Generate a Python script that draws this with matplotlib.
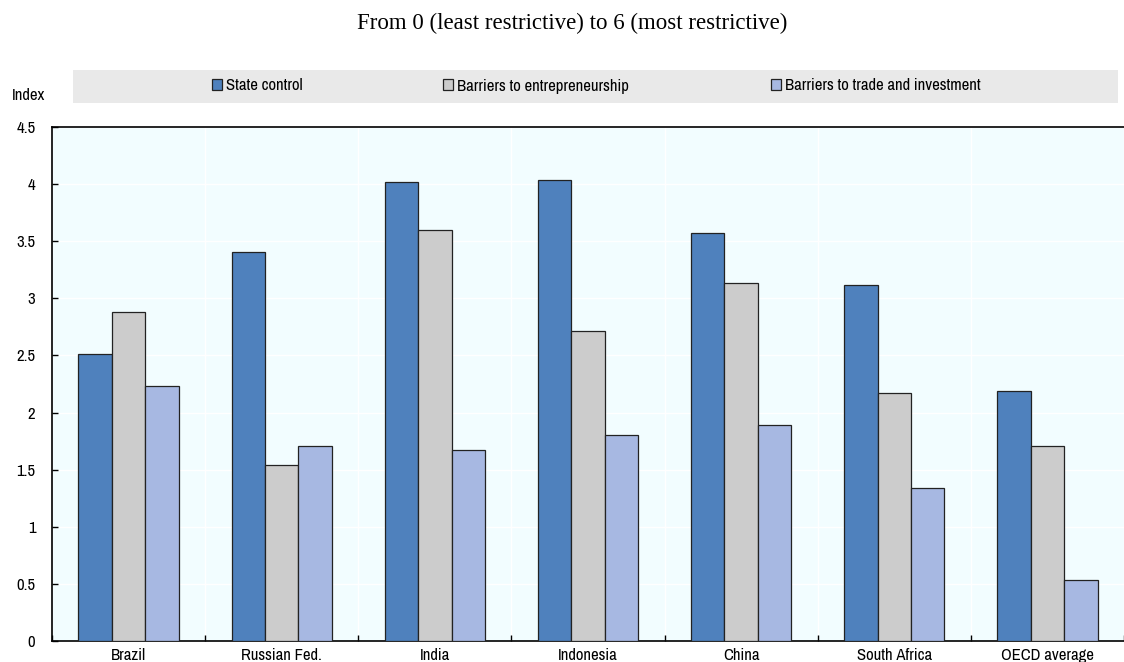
import numpy as np
import matplotlib
matplotlib.use('Agg')
import matplotlib.pyplot as plt
from matplotlib.patches import Rectangle, Patch

plt.rcParams['font.family'] = ['Archivo Narrow', 'PT Sans Narrow', 'Liberation Sans', 'DejaVu Sans']

countries = ['Brazil', 'Russian Fed.', 'India', 'Indonesia', 'China', 'South Africa', 'OECD average']
state_control = [2.51, 3.41, 4.02, 4.04, 3.57, 3.12, 2.19]
barriers_entre = [2.88, 1.54, 3.60, 2.71, 3.13, 2.17, 1.71]
barriers_trade = [2.23, 1.71, 1.67, 1.80, 1.89, 1.34, 0.53]
series_names = ['State control', 'Barriers to entrepreneurship', 'Barriers to trade and investment']
colors = ['#4f81bd', '#cccccc', '#a7b8e2']

fig = plt.figure(figsize=(11.24, 6.62), dpi=100)
ax = fig.add_axes([52 / 1124, 1 - 641 / 662, 1 - 52 / 1124, (641 - 127) / 662])
ax.set_facecolor('#f2fdff')

x = np.arange(len(countries))
w = 0.218
for i, vals in enumerate([state_control, barriers_entre, barriers_trade]):
    ax.bar(x + (i - 1) * w, vals, width=w, color=colors[i], edgecolor='#222222',
           linewidth=0.9, zorder=3)

ax.set_xlim(-0.5, len(countries) - 0.5)
ax.set_ylim(0, 4.5)
ax.set_yticks(np.arange(0, 4.51, 0.5))
ax.set_yticklabels(['0', '0.5', '1', '1.5', '2', '2.5', '3', '3.5', '4', '4.5'])
ax.set_xticks(x)
ax.set_xticklabels(countries)
ax.set_xticks(np.arange(-0.5, len(countries) - 0.4, 1), minor=True)
ax.tick_params(axis='x', which='major', length=0, labelsize=12, pad=5)
ax.tick_params(axis='x', which='minor', length=4, direction='in', width=1)
ax.tick_params(axis='y', length=4, direction='in', width=1, labelsize=12, pad=12)

# gridlines in white
ax.grid(axis='y', color='white', linewidth=1, zorder=1)
ax.grid(axis='x', which='minor', color='white', linewidth=1, zorder=1)
ax.set_axisbelow(True)

ax.spines['right'].set_visible(False)
for s in ['left', 'top', 'bottom']:
    ax.spines[s].set_linewidth(1.2)
    ax.spines[s].set_color('black')

# title and axis unit
fig.text(572 / 1124, 1 - 23 / 662, 'From 0 (least restrictive) to 6 (most restrictive)',
         family=['Liberation Serif', 'DejaVu Serif'], fontsize=16.5, ha='center', va='center')
fig.text(12 / 1124, 1 - 96 / 662, 'Index', fontsize=12, ha='left', va='center')

# legend box
fig.patches.append(Rectangle((73 / 1124, 1 - 103 / 662), (1118 - 73) / 1124, 33 / 662,
                             transform=fig.transFigure, facecolor='#e9e9e9',
                             edgecolor='none', zorder=0))
# one legend entry per series, placed like the original
legend_x = [212, 443, 771]
for name, c, lx in zip(series_names, colors, legend_x):
    h = Patch(facecolor=c, edgecolor='#222222', linewidth=0.9)
    fig.legend([h], [name], loc='center left', bbox_to_anchor=(lx / 1124, 1 - 86 / 662),
               frameon=False, fontsize=12, handlelength=0.57, handleheight=0.57,
               handletextpad=0.25, borderpad=0, borderaxespad=0)

fig.savefig('out.png', dpi=100)
